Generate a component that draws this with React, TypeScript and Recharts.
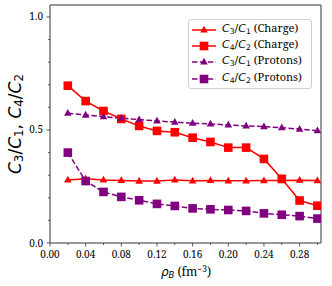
import React from "react";
import { LineChart, Line, XAxis, YAxis, ReferenceArea } from "recharts";

const rho = [0.02, 0.04, 0.06, 0.08, 0.1, 0.12, 0.14, 0.16, 0.18, 0.2, 0.22, 0.24, 0.26, 0.28, 0.3];
const c3c1Charge = [0.279, 0.284, 0.279, 0.277, 0.274, 0.274, 0.279, 0.275, 0.277, 0.275, 0.275, 0.276, 0.276, 0.278, 0.276];
const c4c2Charge = [0.696, 0.628, 0.584, 0.549, 0.518, 0.496, 0.49, 0.466, 0.447, 0.422, 0.422, 0.372, 0.284, 0.188, 0.165];
const c3c1Protons = [0.574, 0.566, 0.559, 0.552, 0.546, 0.54, 0.535, 0.53, 0.527, 0.522, 0.518, 0.515, 0.51, 0.504, 0.497];
const c4c2Protons = [0.4, 0.274, 0.226, 0.204, 0.189, 0.173, 0.164, 0.153, 0.149, 0.146, 0.142, 0.131, 0.125, 0.119, 0.108];

const xTicks = [0, 0.02, 0.04, 0.06, 0.08, 0.1, 0.12, 0.14, 0.16, 0.18, 0.2, 0.22, 0.24, 0.26, 0.28, 0.3];
const yTicks = [0, 0.1, 0.2, 0.3, 0.4, 0.5, 0.6, 0.7, 0.8, 0.9, 1.0];
const X_MAX = 0.304;
const Y_MAX = 1.053;

const RED = "#ff0000";
const PURPLE = "#800080";
const AXIS = "#333";
const SERIF = "'serif'";
const SANS = "'DejaVu Sans', sans-serif";

const data = rho.map((x, i) => ({
  x,
  c3c1Charge: c3c1Charge[i],
  c4c2Charge: c4c2Charge[i],
  c3c1Protons: c3c1Protons[i],
  c4c2Protons: c4c2Protons[i],
}));

const isMajorX = (v: number) => Math.round(v * 100) % 4 === 0;
const isMajorY = (v: number) => Math.round(v * 10) % 5 === 0;

function XTick(props: any) {
  const { x, y, payload } = props;
  const major = isMajorX(payload.value);
  return (
    <g>
      <line x1={x} x2={x} y1={y} y2={y + (major ? 3.5 : 2)} stroke={AXIS} strokeWidth={0.8} />
      {major && (
        <text x={x} y={y + 15} textAnchor="middle" fontFamily={SERIF} fontSize={10} fill="#000">
          {payload.value.toFixed(2)}
        </text>
      )}
    </g>
  );
}

function YTick(props: any) {
  const { x, y, payload } = props;
  const major = isMajorY(payload.value);
  return (
    <g>
      <line x1={x} x2={x - (major ? 3.5 : 2)} y1={y} y2={y} stroke={AXIS} strokeWidth={0.8} />
      {major && (
        <text x={x - 7} y={y + 3.5} textAnchor="end" fontFamily={SERIF} fontSize={10} fill="#000">
          {payload.value.toFixed(1)}
        </text>
      )}
    </g>
  );
}

function Square(props: any) {
  const { cx, cy, fill } = props;
  if (cx == null || cy == null) return <g />;
  return <rect x={cx - 4.3} y={cy - 4.3} width={8.6} height={8.6} fill={fill} />;
}

function Triangle(props: any) {
  const { cx, cy, fill } = props;
  if (cx == null || cy == null) return <g />;
  return <polygon points={`${cx},${cy - 4.2} ${cx - 3.8},${cy + 2.6} ${cx + 3.8},${cy + 2.6}`} fill={fill} />;
}

function Ratio({ a, b }: { a: number; b: number }) {
  return (
    <span style={{ fontFamily: SANS, fontStyle: "italic" }}>
      C<sub style={{ fontSize: "0.7em", fontStyle: "normal", verticalAlign: "-0.25em" }}>{a}</sub>
      <span style={{ fontStyle: "normal" }}>/</span>C
      <sub style={{ fontSize: "0.7em", fontStyle: "normal", verticalAlign: "-0.25em" }}>{b}</sub>
    </span>
  );
}

const legendItems = [
  { a: 3, b: 1, label: "(Charge)", color: RED, marker: "tri", dashed: false },
  { a: 4, b: 2, label: "(Charge)", color: RED, marker: "sq", dashed: false },
  { a: 3, b: 1, label: "(Protons)", color: PURPLE, marker: "tri", dashed: true },
  { a: 4, b: 2, label: "(Protons)", color: PURPLE, marker: "sq", dashed: true },
];

function LegendBox() {
  return (
    <div
      style={{
        position: "absolute",
        left: 188,
        top: 19,
        width: 124,
        height: 70,
        border: "1px solid #d0d0d0",
        borderRadius: 3,
        background: "rgba(255,255,255,0.8)",
        boxSizing: "border-box",
      }}
    >
      {legendItems.map((it, i) => (
        <div
          key={i}
          style={{ position: "absolute", left: 0, top: 1.5 + i * 16.4, height: 16, display: "flex", alignItems: "center" }}
        >
          <svg width={30} height={16} style={{ display: "block" }}>
            <line x1={3} x2={27} y1={8} y2={8} stroke={it.color} strokeWidth={1.5} strokeDasharray={it.dashed ? "5.5 2.4" : undefined} />
            {it.marker === "sq" ? (
              <rect x={10.7} y={3.7} width={8.6} height={8.6} fill={it.color} />
            ) : (
              <polygon points="15,3.8 11.2,10.6 18.8,10.6" fill={it.color} />
            )}
          </svg>
          <span style={{ marginLeft: 3, fontSize: 11, whiteSpace: "nowrap", lineHeight: "16px" }}>
            <Ratio a={it.a} b={it.b} />
            <span style={{ fontFamily: SERIF }}> {it.label}</span>
          </span>
        </div>
      ))}
    </div>
  );
}

export default function App() {
  return (
    <div style={{ position: "absolute", left: 0, top: 0, width: 332, height: 286, background: "#fff" }}>
      <LineChart width={332} height={286} data={data} margin={{ top: 5, right: 11, bottom: 13, left: 0 }}>
        <XAxis
          dataKey="x"
          type="number"
          domain={[0, X_MAX]}
          ticks={xTicks}
          interval={0}
          allowDataOverflow
          height={30}
          axisLine={false}
          tickLine={false}
          tickSize={0}
          tickMargin={0}
          tick={<XTick />}
        />
        <YAxis
          type="number"
          domain={[0, Y_MAX]}
          ticks={yTicks}
          interval={0}
          allowDataOverflow
          width={50}
          axisLine={false}
          tickLine={false}
          tickSize={0}
          tickMargin={0}
          tick={<YTick />}
        />
        <ReferenceArea x1={0} x2={X_MAX} y1={0} y2={Y_MAX} fill="none" stroke={AXIS} strokeWidth={1} />
        <Line dataKey="c3c1Charge" stroke={RED} strokeWidth={1.5} fill={RED} dot={<Triangle />} isAnimationActive={false} />
        <Line dataKey="c4c2Charge" stroke={RED} strokeWidth={1.5} fill={RED} dot={<Square />} isAnimationActive={false} />
        <Line
          dataKey="c3c1Protons"
          stroke={PURPLE}
          strokeWidth={1.5}
          strokeDasharray="5.5 2.4"
          fill={PURPLE}
          dot={<Triangle />}
          isAnimationActive={false}
        />
        <Line
          dataKey="c4c2Protons"
          stroke={PURPLE}
          strokeWidth={1.5}
          strokeDasharray="5.5 2.4"
          fill={PURPLE}
          dot={<Square />}
          isAnimationActive={false}
        />
      </LineChart>
      <LegendBox />
      <div
        style={{
          position: "absolute",
          left: 17,
          top: 124,
          transform: "translate(-50%, -50%) rotate(-90deg)",
          fontSize: 17,
          whiteSpace: "nowrap",
          lineHeight: "20px",
        }}
      >
        <Ratio a={3} b={1} />
        <span style={{ fontFamily: SANS }}>, </span>
        <Ratio a={4} b={2} />
      </div>
      <div
        style={{
          position: "absolute",
          left: 186,
          top: 272,
          transform: "translate(-50%, -50%)",
          fontSize: 12,
          whiteSpace: "nowrap",
          lineHeight: "16px",
        }}
      >
        <span style={{ fontFamily: SANS, fontStyle: "italic" }}>
          ρ<sub style={{ fontSize: "0.7em", verticalAlign: "-0.25em" }}>B</sub>
        </span>
        <span style={{ fontFamily: SERIF }}>
          {" (fm"}
          <sup style={{ fontSize: "0.7em", verticalAlign: "0.45em" }}>−3</sup>)
        </span>
      </div>
    </div>
  );
}
